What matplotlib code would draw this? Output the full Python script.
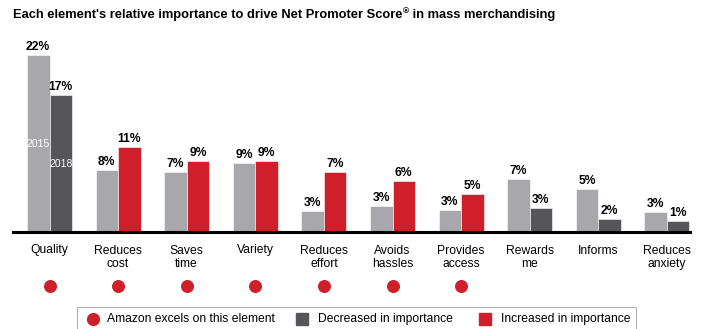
import matplotlib
matplotlib.use("Agg")
import matplotlib.pyplot as plt
from matplotlib.patches import Rectangle
from matplotlib.lines import Line2D
import matplotlib.transforms as mtrans
import numpy as np

plt.rcParams['font.family'] = ['Liberation Sans', 'DejaVu Sans']

categories = ["Quality", "Reduces\ncost", "Saves\ntime", "Variety", "Reduces\neffort",
              "Avoids\nhassles", "Provides\naccess", "Rewards\nme", "Informs", "Reduces\nanxiety"]
values_2015 = [22, 7.7, 7.4, 8.6, 2.6, 3.2, 2.7, 6.6, 5.4, 2.5]
values_2018 = [17, 10.6, 8.8, 8.8, 7.4, 6.3, 4.7, 3.0, 1.6, 1.4]
labels_2015 = ["22%", "8%", "7%", "9%", "3%", "3%", "3%", "7%", "5%", "3%"]
labels_2018 = ["17%", "11%", "9%", "9%", "7%", "6%", "5%", "3%", "2%", "1%"]
increased = [False, True, True, True, True, True, True, False, False, False]
amazon_excels = [True, True, True, True, True, True, True, False, False, False]

GRAY = "#a8a8ac"
DARK = "#55555a"
RED = "#cf1f2a"

W, H = 707, 329
fig = plt.figure(figsize=(W / 100, H / 100), dpi=100)

ax_left, ax_right, ax_bottom, ax_top = 13, 690, 232, 40
ax = fig.add_axes([ax_left / W, 1 - ax_bottom / H, (ax_right - ax_left) / W, (ax_bottom - ax_top) / H])

pxper = 68.6
c0 = 49.5
ax.set_xlim((ax_left - c0) / pxper, (ax_right - c0) / pxper)
ppu = 8.05
ax.set_ylim(0, (ax_bottom - ax_top) / ppu)

x = np.arange(len(categories))
bw = 0.328
colors_2018 = [RED if inc else DARK for inc in increased]
ax.bar(x - bw / 2, values_2015, bw, color=GRAY, edgecolor="white", linewidth=0.4)
ax.bar(x + bw / 2, values_2018, bw, color=colors_2018, edgecolor="white", linewidth=0.4)

for xi, v, lab in zip(x - bw / 2, values_2015, labels_2015):
    ax.text(xi, v + 0.25, lab, ha="center", va="bottom", fontsize=8.7, fontweight="bold")
for xi, v, lab in zip(x + bw / 2, values_2018, labels_2018):
    ax.text(xi, v + 0.25, lab, ha="center", va="bottom", fontsize=8.7, fontweight="bold")

ax.text(x[0] - bw / 2, (ax_bottom - 144) / ppu, "2015", color="white", ha="center", va="center", fontsize=7.5)
ax.text(x[0] + bw / 2, (ax_bottom - 164) / ppu, "2018", color="white", ha="center", va="center", fontsize=7.5)

for s in ["top", "right", "left"]:
    ax.spines[s].set_visible(False)
ax.spines["bottom"].set_linewidth(2.2)
ax.spines["bottom"].set_color("black")
ax.set_yticks([])
ax.set_xticks(x)
ax.set_xticklabels(categories, fontsize=8.7, linespacing=1.2)
ax.tick_params(axis="x", length=0, pad=9)

# dots for "Amazon excels"
trans = mtrans.blended_transform_factory(ax.transData, fig.transFigure)
dx = [xi for xi, e in zip(x, amazon_excels) if e]
ax.scatter(dx, [1 - 286 / H] * len(dx), s=70, color=RED, transform=trans, clip_on=False, zorder=5)

# title with superscript ®
renderer = fig.canvas.get_renderer()
ty = 1 - 15 / H
t1 = fig.text(13 / W, ty, "Each element's relative importance to drive Net Promoter Score",
              ha="left", va="center", fontsize=9.3, fontweight="bold")
bb = t1.get_window_extent(renderer=renderer)
t2 = fig.text(bb.x1 / W + 0.5 / W, ty + 3 / H, "\u00ae", ha="left", va="center", fontsize=6, fontweight="bold")
bb2 = t2.get_window_extent(renderer=renderer)
fig.text(bb2.x1 / W, ty, " in mass merchandising", ha="left", va="center", fontsize=9.3, fontweight="bold")

# legend
lg = Rectangle((77 / W, 1 - 335 / H), (636 - 77) / W, (335 - 307) / H, transform=fig.transFigure,
               facecolor="white", edgecolor="#b0b0b0", linewidth=0.8)
fig.patches.append(lg)
ly = 1 - 319 / H
fig.add_artist(Line2D([93 / W], [ly], marker="o", markersize=8.5, color=RED, linestyle="none", transform=fig.transFigure))
fig.text(107 / W, ly, "Amazon excels on this element", ha="left", va="center", fontsize=8.7)
fig.add_artist(Line2D([302 / W], [ly], marker="s", markersize=8, color=DARK, linestyle="none", transform=fig.transFigure))
fig.text(318 / W, ly, "Decreased in importance", ha="left", va="center", fontsize=8.7)
fig.add_artist(Line2D([485 / W], [ly], marker="s", markersize=8, color=RED, linestyle="none", transform=fig.transFigure))
fig.text(501 / W, ly, "Increased in importance", ha="left", va="center", fontsize=8.7)

fig.savefig("out.png", dpi=100)
